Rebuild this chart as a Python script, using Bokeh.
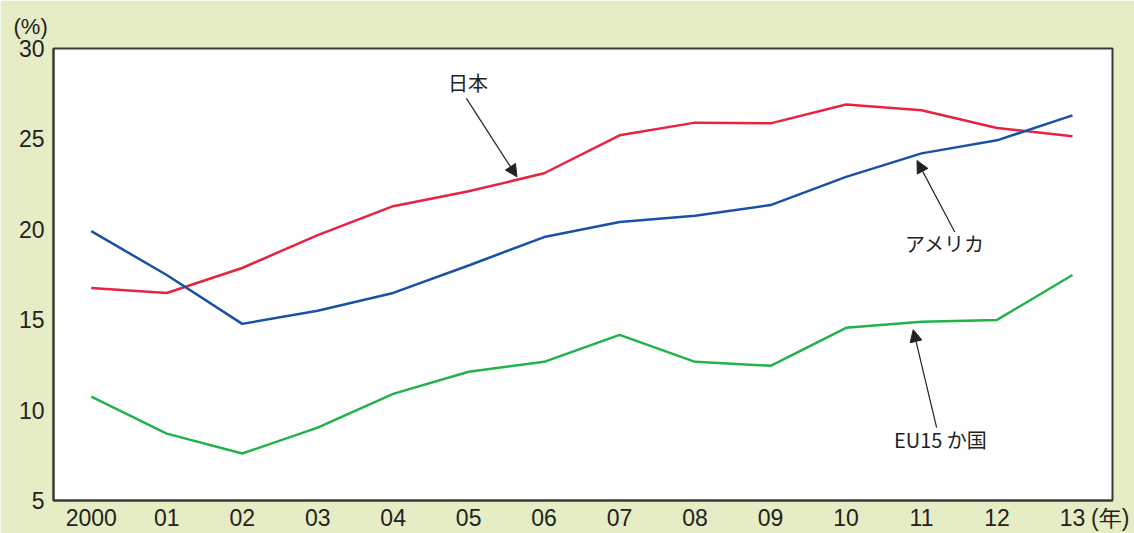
from bokeh.plotting import figure
from bokeh.models import Label, Arrow, NormalHead, Range1d, FixedTicker, Title
from bokeh.embed import file_html
from bokeh.resources import INLINE

years = list(range(0, 14))
year_labels = ["2000", "01", "02", "03", "04", "05", "06", "07", "08", "09", "10", "11", "12", "13"]
japan = [16.75, 16.48, 17.86, 19.68, 21.28, 22.1, 23.1, 25.2, 25.9, 25.86, 26.9, 26.58, 25.6, 25.15]
usa = [19.9, 17.47, 14.77, 15.49, 16.48, 18.0, 19.57, 20.4, 20.75, 21.34, 22.9, 24.2, 24.92, 26.3]
eu15 = [10.74, 8.7, 7.6, 9.03, 10.9, 12.12, 12.67, 14.16, 12.67, 12.45, 14.55, 14.88, 14.99, 17.47]
y_ticks = [5, 10, 15, 20, 25, 30]
unit_x = "(年)"
unit_y = "(%)"

BG = "#e6edc4"
FONT = "Liberation Sans"
JP = "Noto Sans CJK JP"

p = figure(width=1134, height=533, output_backend="svg", toolbar_location=None,
           x_range=Range1d(-0.5, 13.53), y_range=Range1d(5, 30),
           background_fill_color="white", border_fill_color=BG,
           min_border_left=53, min_border_right=22, min_border_top=48, min_border_bottom=30)
p.grid.visible = False
p.outline_line_color = "#3a3a3a"
p.outline_line_width = 2

p.add_layout(Title(text=unit_y, align="left", offset=-40, standoff=20,
                   text_font=FONT, text_font_size="22px", text_font_style="normal",
                   text_color="#222222"), "above")

for ax in (p.xaxis[0], p.yaxis[0]):
    ax.axis_line_color = "#3a3a3a"
    ax.axis_line_width = 2
    ax.major_tick_line_color = None
    ax.minor_tick_line_color = None
    ax.major_tick_out = 0
    ax.major_tick_in = 0
    ax.major_label_text_font = FONT
    ax.major_label_text_font_size = "23px"
    ax.major_label_text_color = "#222222"

x_ticks = years + [13.5]
p.xaxis.ticker = FixedTicker(ticks=x_ticks)
overrides = {y: l for y, l in zip(years, year_labels)}
overrides[13.5] = unit_x
p.xaxis.major_label_overrides = overrides
p.xaxis.major_label_standoff = 4
p.yaxis.ticker = FixedTicker(ticks=y_ticks)
p.yaxis.major_label_standoff = 9

p.line(years, japan, line_color="#e8223f", line_width=2.5)
p.line(years, usa, line_color="#1a50a6", line_width=2.5)
p.line(years, eu15, line_color="#22b24a", line_width=2.5)

def arrow(x0, y0, x1, y1):
    p.add_layout(Arrow(x_start=x0, y_start=y0, x_end=x1, y_end=y1,
                       line_color="#222222", line_width=1.2,
                       end=NormalHead(size=12, fill_color="#222222", line_color="#222222")))

arrow(4.97, 27.24, 5.64, 22.9)
arrow(11.44, 19.85, 10.94, 23.8)
arrow(11.2, 9.03, 10.89, 14.45)

def jlabel(x, y, t):
    p.add_layout(Label(x=x, y=y, text=t, text_font=JP, text_font_size="20px",
                       text_color="#222222", text_align="center", text_baseline="middle"))

jlabel(4.99, 28.12, "日本")
jlabel(11.31, 19.24, "アメリカ")
jlabel(11.25, 8.37, "EU15 か国")

open("out.html", "w").write(file_html(p, INLINE))
